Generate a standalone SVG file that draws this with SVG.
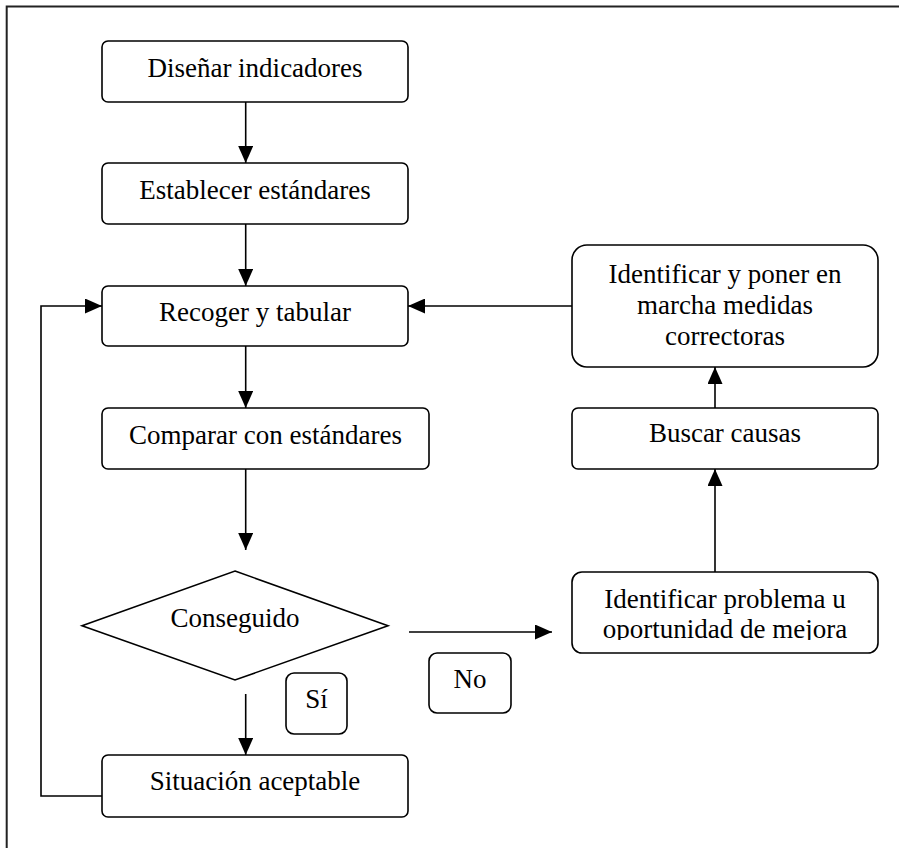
<svg xmlns="http://www.w3.org/2000/svg" width="899" height="848" viewBox="0 0 899 848">
<style>
.box{fill:#fff;stroke:#000;stroke-width:1.6}
.t{font-family:'Liberation Serif','Times New Roman',Times,'DejaVu Serif',serif;font-size:27px;fill:#000;text-anchor:middle}
.c{fill:none;stroke:#000;stroke-width:1.6}
</style>
<defs>
<marker id="ah" markerUnits="userSpaceOnUse" markerWidth="17" markerHeight="15" refX="17" refY="7.5" orient="auto">
<path d="M0,0 L17,7.5 L0,15 z" fill="#000"/>
</marker>
<clipPath id="clipP"><rect x="572" y="572" width="306" height="68"/></clipPath>
</defs>
<rect width="899" height="848" fill="#fff"/>
<path d="M6.7,848 V6.5 H899" fill="none" stroke="#222" stroke-width="2"/>

<g id="connectors">
<path class="c" d="M245.7,102 V163" marker-end="url(#ah)"/>
<path class="c" d="M245.7,224 V286" marker-end="url(#ah)"/>
<path class="c" d="M245.7,346 V408" marker-end="url(#ah)"/>
<path class="c" d="M245.7,469 V550" marker-end="url(#ah)"/>
<path class="c" d="M245.7,694 V755" marker-end="url(#ah)"/>
<path class="c" d="M409,632 H552" marker-end="url(#ah)"/>
<path class="c" d="M102,796 H41 V306 H102" marker-end="url(#ah)"/>
<path class="c" d="M572,306 H408" marker-end="url(#ah)"/>
<path class="c" d="M715,572 V469" marker-end="url(#ah)"/>
<path class="c" d="M715,408 V367" marker-end="url(#ah)"/>
</g>

<g id="n-disenar">
<rect class="box" x="102" y="41" width="306" height="61" rx="6"/>
<text class="t" x="255" y="77" font-family="Liberation Serif, serif">Diseñar indicadores</text>
</g>
<g id="n-establecer">
<rect class="box" x="102" y="163" width="306" height="61" rx="6"/>
<text class="t" x="255" y="199">Establecer estándares</text>
</g>
<g id="n-recoger">
<rect class="box" x="102" y="286" width="306" height="60" rx="6"/>
<text class="t" x="255" y="321">Recoger y tabular</text>
</g>
<g id="n-comparar">
<rect class="box" x="102" y="408" width="327" height="61" rx="6"/>
<text class="t" x="265.5" y="444">Comparar con estándares</text>
</g>
<g id="n-conseguido">
<polygon class="box" points="235,571 388,625.7 235,680 82,625.7"/>
<text class="t" x="235" y="627">Conseguido</text>
</g>
<g id="l-si">
<rect class="box" x="286" y="673" width="61" height="61" rx="8"/>
<text class="t" x="316.5" y="708">Sí</text>
</g>
<g id="n-situacion">
<rect class="box" x="102" y="755" width="306" height="62" rx="6"/>
<text class="t" x="255" y="790">Situación aceptable</text>
</g>
<g id="l-no">
<rect class="box" x="429" y="653" width="82" height="60" rx="8"/>
<text class="t" x="470" y="688">No</text>
</g>
<g id="n-problema">
<rect class="box" x="572" y="572" width="306" height="81" rx="10"/>
<g clip-path="url(#clipP)">
<text class="t" x="725" y="608">Identificar problema u</text>
<text class="t" x="725" y="638">oportunidad de mejora</text>
</g>
</g>
<g id="n-buscar">
<rect class="box" x="572" y="408" width="306" height="61" rx="6"/>
<text class="t" x="725" y="442">Buscar causas</text>
</g>
<g id="n-medidas">
<rect class="box" x="572" y="245" width="306" height="122" rx="15"/>
<text class="t" x="725" y="283">Identificar y poner en</text>
<text class="t" x="725" y="314">marcha medidas</text>
<text class="t" x="725" y="345">correctoras</text>
</g>
</svg>
